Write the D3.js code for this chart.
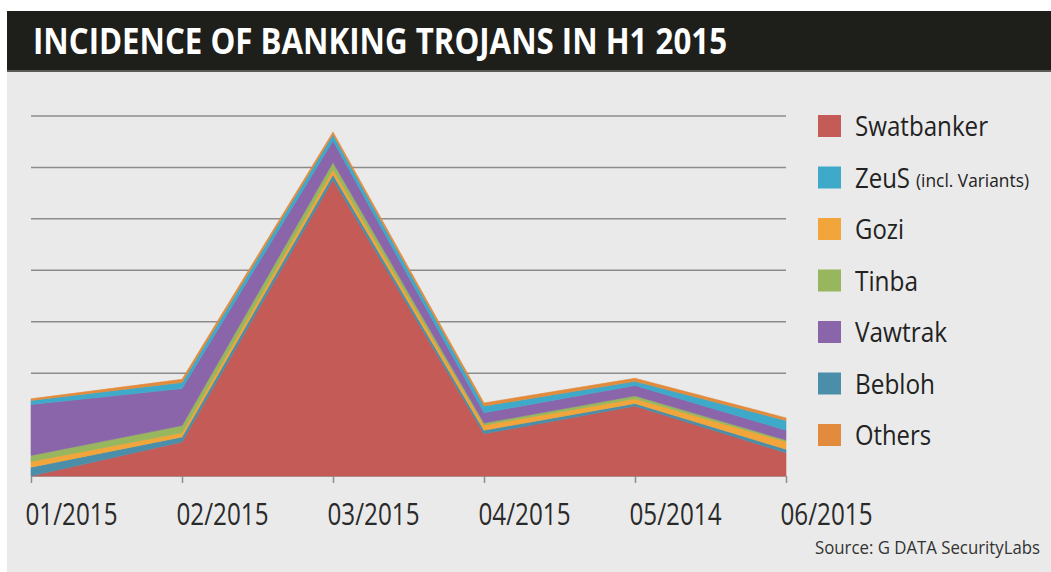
<!DOCTYPE html>
<html>
<head>
<meta charset="utf-8">
<script src="https://cdn.jsdelivr.net/npm/d3@7"></script>
<style>
  html, body { margin: 0; padding: 0; background: #ffffff; }
  svg { display: block; }
  text { font-family: "Open Sans", "Noto Sans", sans-serif; }
</style>
</head>
<body>
<svg id="chart" width="1051" height="572"></svg>
<script>
// Monthly incidence per trojan family (stacked), H1 2015
const months = ["01/2015", "02/2015", "03/2015", "04/2015", "05/2014", "06/2015"];
const swatbanker = [0.0, 6.6, 57.6, 8.2, 13.6, 4.5];
const bebloh     = [1.7, 1.0, 1.0, 0.7, 0.5, 0.7];
const gozi       = [1.1, 0.8, 1.0, 1.0, 0.9, 1.5];
const tinba      = [1.2, 1.4, 1.4, 0.4, 0.6, 0.3];
const vawtrak    = [9.9, 7.2, 4.2, 2.0, 2.0, 1.9];
const zeus       = [0.8, 1.2, 1.2, 1.3, 0.8, 1.9];
const others     = [0.3, 0.6, 0.5, 0.6, 0.6, 0.5];

// Stacking order (bottom to top) and legend order (top to bottom)
const stackKeys  = ["Swatbanker", "Bebloh", "Gozi", "Tinba", "Vawtrak", "ZeuS", "Others"];
const legendKeys = ["Swatbanker", "ZeuS", "Gozi", "Tinba", "Vawtrak", "Bebloh", "Others"];
const gridTicks  = [0, 10, 20, 30, 40, 50, 60, 70];

const seriesByKey = {
  Swatbanker: swatbanker, Bebloh: bebloh, Gozi: gozi, Tinba: tinba,
  Vawtrak: vawtrak, ZeuS: zeus, Others: others
};
const colors = {
  Swatbanker: "#c55b57", ZeuS: "#3ea9c9", Gozi: "#f2a53a", Tinba: "#97b65e",
  Vawtrak: "#8a65a9", Bebloh: "#4a8ea9", Others: "#e28b3c"
};

const table = months.map((m, i) => {
  const row = { month: m };
  stackKeys.forEach(k => { row[k] = seriesByKey[k][i]; });
  return row;
});

const svg = d3.select("#chart");

// panel background and title bar
svg.append("rect").attr("x", 7).attr("y", 11).attr("width", 1044).attr("height", 561).attr("fill", "#eaeaea");
svg.append("rect").attr("x", 7).attr("y", 11).attr("width", 1044).attr("height", 61).attr("fill", "#1e1e1b");
svg.append("rect").attr("x", 7).attr("y", 70).attr("width", 1044).attr("height", 2).attr("fill", "#5a5a56");
svg.append("text")
  .attr("x", 33).attr("y", 54)
  .attr("fill", "#ffffff")
  .attr("font-size", 35).attr("font-weight", 700)
  .attr("textLength", 694).attr("lengthAdjust", "spacingAndGlyphs")
  .text("INCIDENCE OF BANKING TROJANS IN H1 2015");

const x = d3.scalePoint().domain(months).range([31, 786]);
const y = d3.scaleLinear().domain([0, 70]).range([476, 116]);

// horizontal gridlines
svg.append("g")
  .selectAll("line")
  .data(gridTicks)
  .join("line")
  .attr("x1", x.range()[0]).attr("x2", x.range()[1])
  .attr("y1", d => y(d)).attr("y2", d => y(d))
  .attr("stroke", "#8c8c8c").attr("stroke-width", 1.5);

// stacked areas
const stack = d3.stack().keys(stackKeys);
const layers = stack(table);
const area = d3.area()
  .x(d => x(d.data.month))
  .y0(d => y(d[0]))
  .y1(d => y(d[1]));

svg.append("g")
  .selectAll("path")
  .data(layers)
  .join("path")
  .attr("d", area)
  .attr("fill", d => colors[d.key])
  .attr("stroke", d => colors[d.key])
  .attr("stroke-width", 0.6);

// x axis: ticks and month labels
const xAxis = d3.axisBottom(x).tickSize(7).tickSizeOuter(0).tickPadding(12);
const gx = svg.append("g").attr("transform", `translate(0,${y(0)})`).call(xAxis);
gx.select(".domain").remove();
gx.selectAll(".tick line").attr("stroke", "#8c8c8c").attr("stroke-width", 1.5);
gx.selectAll(".tick text")
  .attr("fill", "#2a2a2a")
  .attr("font-size", 31)
  .attr("font-family", "'Open Sans', 'Noto Sans', sans-serif")
  .attr("text-anchor", "start")
  .attr("x", -6)
  .attr("y", 49)
  .attr("dy", null)
  .attr("textLength", 92).attr("lengthAdjust", "spacingAndGlyphs");

// legend
const legendLabelWidth = { Swatbanker: 133, ZeuS: 55, Gozi: 49, Tinba: 63, Vawtrak: 92, Bebloh: 80, Others: 76 };
const legend = svg.append("g");
const rows = legend.selectAll("g")
  .data(legendKeys)
  .join("g")
  .attr("transform", (d, i) => `translate(818,${115 + i * 51.5})`);
rows.append("rect")
  .attr("width", 23).attr("height", 22)
  .attr("fill", d => colors[d]);
rows.append("text")
  .attr("x", 37).attr("y", 21)
  .attr("fill", "#222222")
  .attr("font-size", 28)
  .attr("textLength", d => legendLabelWidth[d]).attr("lengthAdjust", "spacingAndGlyphs")
  .text(d => d);
rows.filter(d => d === "ZeuS").append("text")
  .attr("x", 37 + 61).attr("y", 20)
  .attr("fill", "#222222")
  .attr("font-size", 18)
  .attr("textLength", 113).attr("lengthAdjust", "spacingAndGlyphs")
  .text("(incl. Variants)");

// source note
svg.append("text")
  .attr("x", 815).attr("y", 554)
  .attr("fill", "#333333")
  .attr("font-size", 17.5)
  .attr("textLength", 225).attr("lengthAdjust", "spacingAndGlyphs")
  .text("Source: G DATA SecurityLabs");
</script>
</body>
</html>
